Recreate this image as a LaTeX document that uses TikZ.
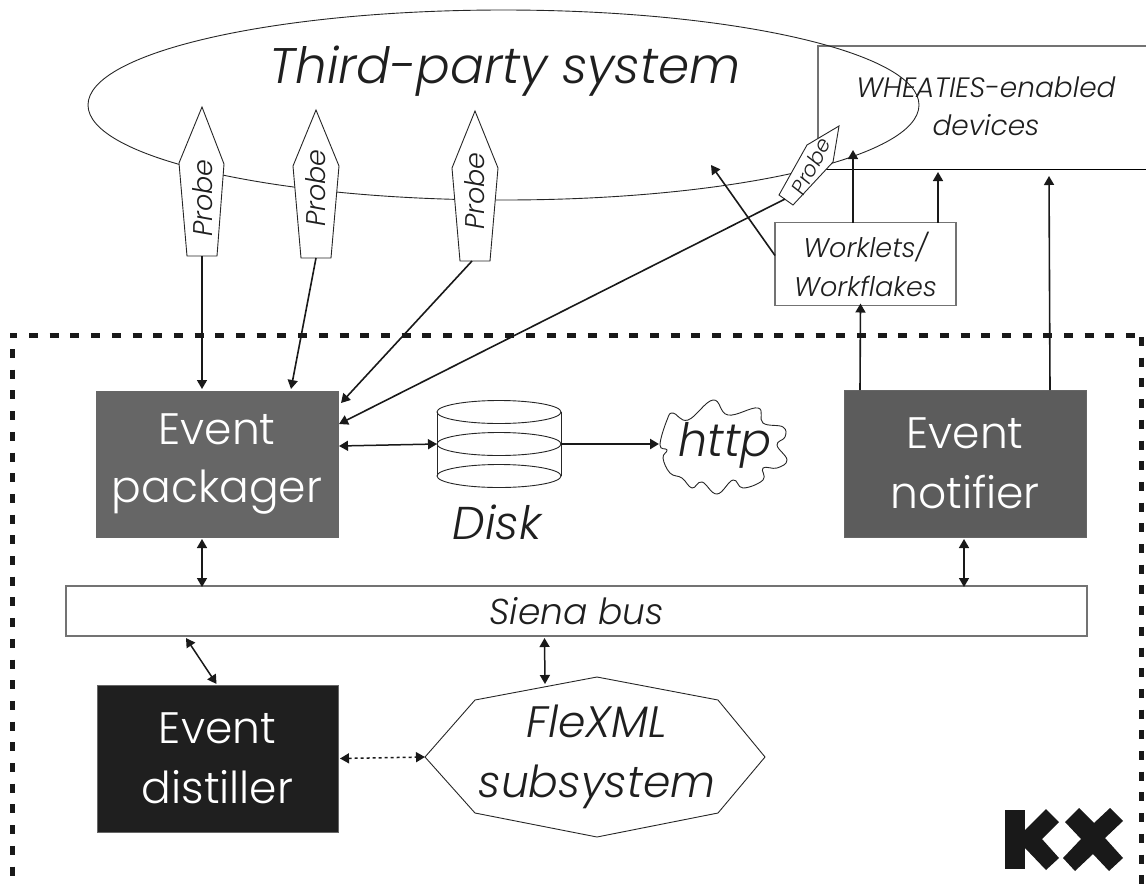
\documentclass[tikz,border=0pt]{standalone}
\usepackage{fontspec}
\setmainfont{Poppins Light}[ItalicFont=Poppins Light Italic]
\usetikzlibrary{arrows.meta,shapes.geometric}
\newcommand{\fs}[2]{\fontsize{#1}{#2}\selectfont}
\tikzset{
 every node/.style={outer sep=0pt,inner sep=0pt},
 arr/.style={-{Triangle[length=9pt,width=10pt]},draw=black!90,line width=1.6pt},
 darr/.style={{Triangle[length=9pt,width=10pt]}-{Triangle[length=9pt,width=10pt]},draw=black!90,line width=1.5pt},
 lbl/.style={font=\itshape,align=center,text=black!88},
 evbox/.style={draw=black!60,line width=.8pt,align=center,text=white},
 probe/.style={fill=white,draw=black!85,line width=.9pt},
 dashln/.style={draw=black!90,line width=5pt,dash pattern=on 9pt off 11.7pt},
 thinbox/.style={draw=black!55,line width=1.1pt,fill=white},
}
\begin{document}
\begin{tikzpicture}[x=1pt,y=-1pt]
\useasboundingbox (0,0) rectangle (1146,884);
% WHEATIES box lines
\coordinate (wtl) at (818,46);
\coordinate (wb) at (825,169);
\coordinate (wbr) at (1146,169);
\draw[draw=black!55,line width=1.2pt] (818,140) -- (wtl) -- (1146,46);
\draw[draw=black,line width=1pt] (wb) -- (wbr);
% ellipse
\node[ellipse,draw=black!85,line width=.9pt,minimum width=831pt,minimum height=190pt] (sys) at (503.5,105) {};
\node[lbl,font=\itshape\fs{50}{60}] (syst) at (505,71) {Third-party system};
\node[lbl,font=\itshape\fs{28}{38.5}] (wtxt) at (986,106) {WHEATIES-enabled\\devices};
% probes
\draw[probe] (202,107) -- (224,164) -- (217,256) coordinate (p1b) -- (187,256) -- (179,163) -- cycle;
\draw[probe] (316,110) -- (339,166) -- (331,258) -- (301,258) -- (293,166) -- cycle;
\draw[probe] (475,111) -- (498,168) -- (490,261) -- (460,261) -- (452,168) -- cycle;
\draw[probe] (839,126) -- (833,162) -- (793,205) -- (779,195) -- (807,145) -- cycle;
\coordinate (p1) at (202,256); \coordinate (p2) at (316,258); \coordinate (p3) at (472,261); \coordinate (p4) at (785,199);
\node[lbl,rotate=90,font=\itshape\fs{27}{30}] (pt1) at (203,198) {Probe};
\node[lbl,rotate=90,font=\itshape\fs{27}{30}] (pt2) at (316,188) {Probe};
\node[lbl,rotate=90,font=\itshape\fs{27}{30}] (pt3) at (475,191) {Probe};
\node[lbl,rotate=62,font=\itshape\fs{21}{24}] (pt4) at (811,166) {Probe};
% main boxes
\node[evbox,fill=black!60,minimum width=242pt,minimum height=146pt,font=\fs{44}{58}] (pkg) at (217,464) {Event\\packager};
\node[evbox,fill=black!64,minimum width=242pt,minimum height=147pt,font=\fs{44}{60}] (ntf) at (965,463.5) {Event\\notifier};
\node[evbox,fill=black!88,minimum width=241pt,minimum height=147pt,font=\fs{44}{60}] (dst) at (217.5,758.5) {Event\\distiller};
\node[thinbox,minimum width=1021pt,minimum height=50pt,lbl,font=\itshape\fs{36}{40}] (bus) at (576.5,611) {Siena bus};
\node[thinbox,minimum width=181pt,minimum height=83pt,lbl,font=\itshape\fs{27}{39}] (wrk) at (865.5,264) {Worklets/\\Workflakes};
% disk
\draw[black!85,line width=.9pt] (437,412) -- (437,476) (561,412) -- (561,476);
\draw[black!85,line width=.9pt] (499,412) ellipse [x radius=62, y radius=11.5];
\draw[black!85,line width=.9pt] (499,444) ellipse [x radius=62, y radius=11.5];
\draw[black!85,line width=.9pt] (499,476) ellipse [x radius=62, y radius=11.5];
\coordinate (dl) at (437,444); \coordinate (dr) at (561,444);
\node[lbl,font=\itshape\fs{46}{50}] (dtxt) at (497,522) {Disk};
% cloud
\draw[black!85,line width=.9pt] plot[smooth cycle,tension=.7] coordinates {(660,445)(667,420)(673,413)(688,420)(713,400)(728,415)(758,408)(763,423)(783,427)(785,437)(777,445)(787,460)(777,468)(763,468)(763,480)(743,488)(733,480)(717,494)(702,482)(692,488)(682,478)(670,473)(663,458)(667,450)};
\coordinate (cl) at (659,444);
\node[lbl,font=\itshape\fs{46}{50}] (htxt) at (725,445) {http};
% octagon
\draw[black!85,line width=.9pt] (425,757) coordinate (ol) -- (475,700) -- (597,677) -- (718,700) -- (765,757) -- (718,813) -- (597,837) -- (475,813) -- cycle;
\coordinate (ot) at (545,684);
\node[lbl,font=\itshape\fs{44}{60}] (ftxt) at (597,757) {FleXML\\subsystem};
% dashed frame
\coordinate (dsL) at (12,349); \coordinate (dsLe) at (12,884);
\coordinate (dsT) at (29,335); \coordinate (dsTe) at (1141,335);
\coordinate (dsR) at (1141,337); \coordinate (dsRe) at (1141,884);
\draw[dashln] (dsL) -- (dsLe);
\draw[dashln] (dsT) -- (dsTe);
\draw[dashln] (dsR) -- (dsRe);
\draw[draw=black!90,line width=5pt] (10,335) -- (17,335);
% connectors
\draw[arr] (p1) -- ([xshift=106pt,yshift=2pt]pkg.north west);
\draw[arr] (p2) -- ([xshift=195pt,yshift=2pt]pkg.north west);
\draw[arr] (p3) -- ([xshift=3pt,yshift=-12pt]pkg.north east);
\draw[arr] (p4) -- ([xshift=1pt,yshift=-33pt]pkg.north east);
\draw[darr] ([xshift=1pt,yshift=-55pt]pkg.north east) -- (dl);
\draw[arr,line width=2.4pt] (dr) -- (cl);
\draw[darr] ([xshift=106pt,yshift=-2pt]pkg.south west) -- ([xshift=-374.5pt,yshift=-1pt]bus.north);
\draw[darr] ([xshift=120pt,yshift=-2pt]bus.south west) -- ([xshift=-1pt,yshift=1pt]dst.north);
\draw[darr] ([xshift=-32pt,yshift=-2pt]bus.south) -- (ot);
\draw[darr] ([xshift=120pt,yshift=-2pt]ntf.south west) -- ([xshift=387.5pt,yshift=-1pt]bus.north);
\draw[{Triangle[length=9pt,width=10pt]}-{Triangle[length=9pt,width=10pt]},draw=black!90,line width=1.5pt,dash pattern=on 3pt off 3pt] ([xshift=2pt]dst.east) -- (ol);
\draw[arr] ([xshift=16pt]ntf.north west) -- ([yshift=2pt,xshift=-5pt]wrk.south);
\draw[arr] ([xshift=206pt]ntf.north west) -- (1049,176) coordinate (nw);
\draw[arr] ([xshift=78pt]wrk.north west) -- (853,150);
\draw[arr] ([xshift=163pt]wrk.north west) -- (938,172);
\draw[arr] ([yshift=-33pt]wrk.north west) -- (711,165);
% logo
\fill[black!90] (1005,810) rectangle (1025,869);
\fill[black!90] (1046,809) -- (1059,822) -- (1042,839) -- (1059,858) -- (1046,870) -- (1025,848) -- (1025,830) -- cycle;
\fill[black!90] (1079,808) -- (1094,823) -- (1110,808) -- (1123,821) -- (1105,838) -- (1123,858) -- (1109,871) -- (1093,854) -- (1075,871) -- (1063,858) -- (1081,839) -- (1065,822) -- cycle;
\end{tikzpicture}
\end{document}
